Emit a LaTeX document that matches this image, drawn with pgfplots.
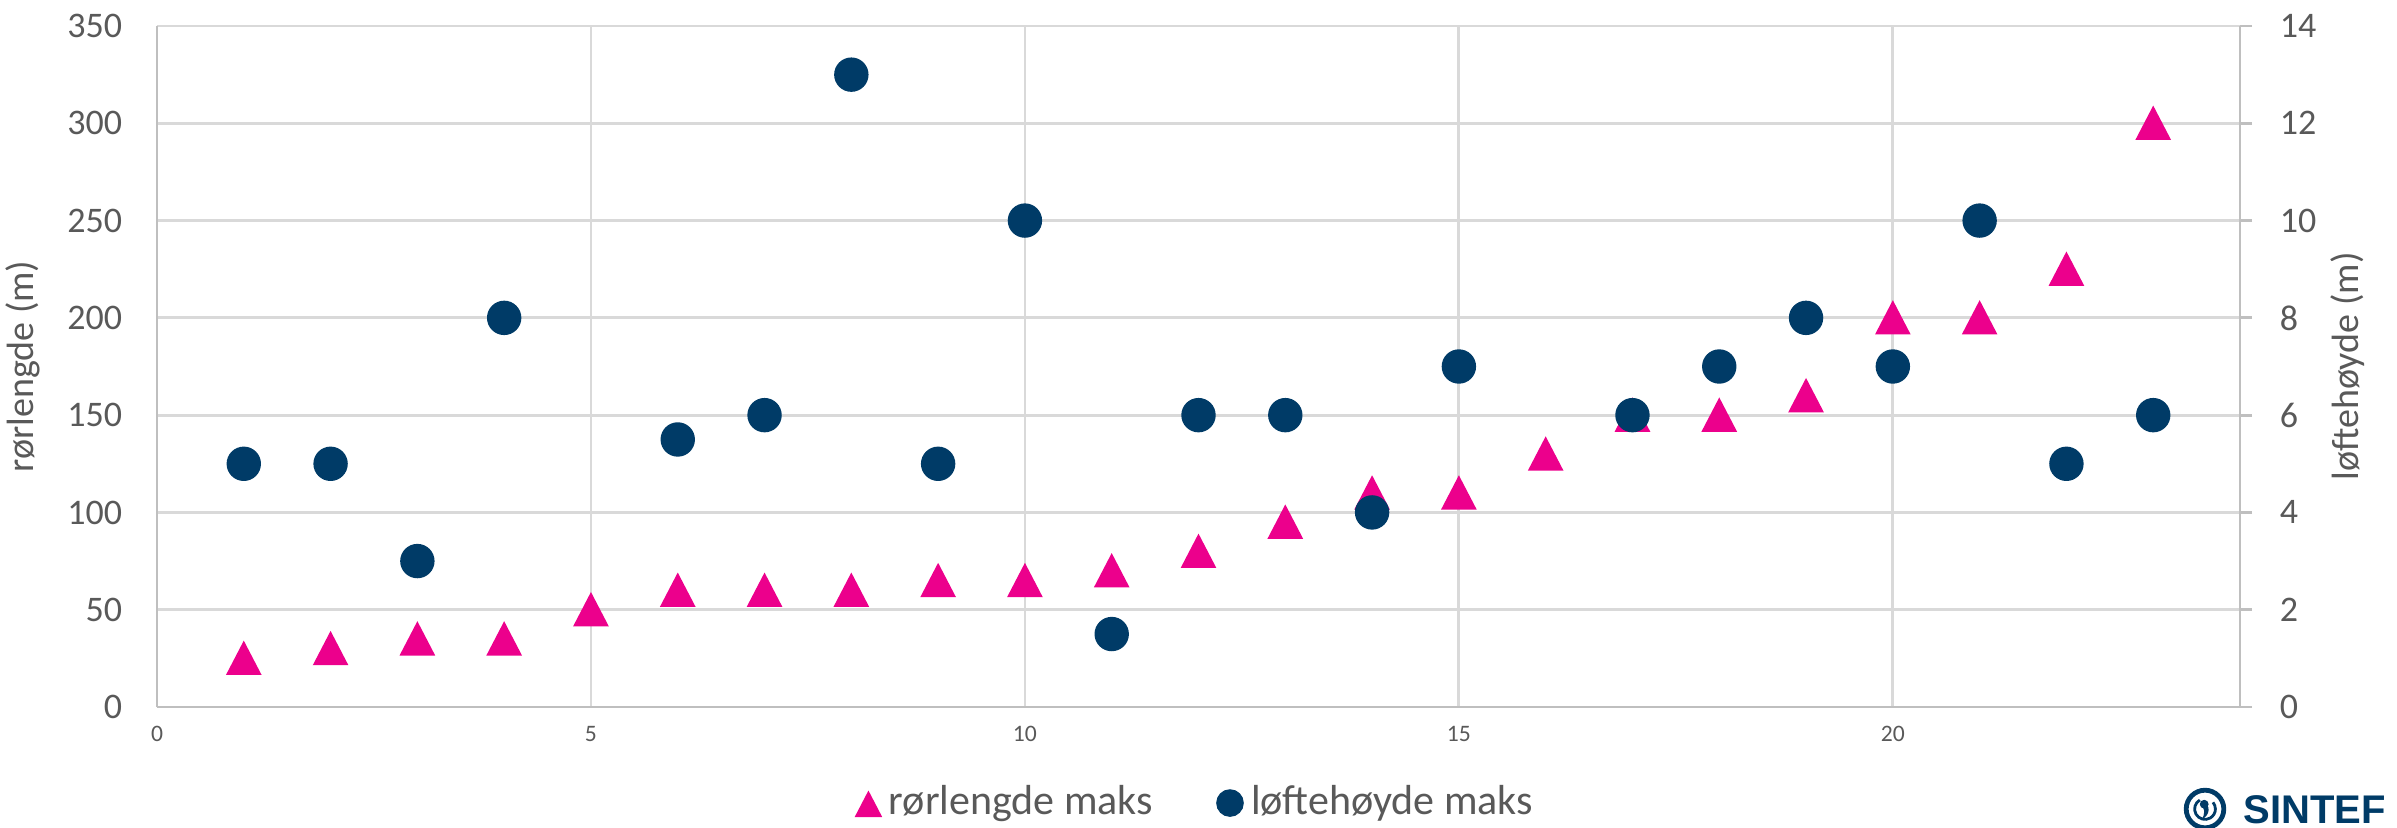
\documentclass[border=0pt]{standalone}
\usepackage{pgfplots}
\pgfplotsset{compat=1.18}
\usepackage{fontspec}
\setmainfont{Carlito}
\newfontfamily\logofont{Liberation Sans}
\definecolor{pinkc}{HTML}{EC008C}
\definecolor{navyc}{HTML}{003B67}
\definecolor{gridc}{HTML}{D9D9D9}
\definecolor{axisc}{HTML}{BFBFBF}
\definecolor{textc}{HTML}{595959}
\pgfplotstableread{
x y
1 25
2 30
3 35
4 35
5 50
6 60
7 60
8 60
9 65
10 65
11 70
12 80
13 95
14 110
15 110
16 130
17 150
18 150
19 160
20 200
21 200
22 225
23 300
}\rortable
\pgfplotstableread{
x y
1 5
2 5
3 3
4 8
6 5.5
7 6
8 13
9 5
10 10
11 1.5
12 6
13 6
14 4
15 7
17 6
18 7
19 8
20 7
21 10
22 5
23 6
}\lofttable
\begin{document}
\begin{tikzpicture}
\pgfplotsset{
  common/.style={
    scale only axis, width=520.75pt, height=170.25pt,
    xmin=0, xmax=24,
    axis line style={draw=axisc, line width=0.7pt},
    /pgf/number format/assume math mode=true,
    tick label style={text=textc},
  }
}
\begin{axis}[common,
  ymin=0, ymax=350,
  xtick={0,5,...,20}, ytick={0,50,...,350},
  axis x line*=bottom, axis y line*=left,
  grid=major, major grid style={draw=gridc, line width=0.7pt},
  tick style={draw=none},
  xticklabel style={font=\fontsize{5.9}{7}\selectfont, anchor=center, yshift=-6.75pt},
  yticklabel style={font=\fontsize{9}{10}\selectfont, anchor=east, inner sep=0pt, xshift=-8.5pt},
  ylabel={rørlengde (m)},
  every axis y label/.style={at={(axis description cs:0,0.5)}, xshift=-33.5pt, rotate=90, anchor=center, font=\fontsize{9.5}{11}\selectfont, text=textc},
  legend style={at={(axis description cs:0.5,-0.141)}, anchor=center, draw=none, fill=none,
    legend columns=2, font=\fontsize{10.5}{12}\selectfont, text=textc,
    /tikz/every even column/.append style={column sep=14pt}},
  legend cell align=left,
]
\addplot[only marks, mark=triangle*, mark size=5.3pt, color=pinkc,
  mark options={fill=pinkc, draw=pinkc, xscale=0.9, yshift=-1.3pt},
  legend image post style={mark size=4pt}] table[x=x,y=y] {\rortable};
\addlegendentry{rørlengde maks}
\addlegendimage{only marks, mark=*, mark size=3.25pt, color=navyc, mark options={fill=navyc, draw=navyc}}
\addlegendentry{løftehøyde maks}
\end{axis}
\begin{axis}[common,
  ymin=0, ymax=14, ytick={0,2,...,14},
  axis x line=none, axis y line*=right,
  tick align=outside, major tick length=3pt, tick style={draw=axisc, line width=0.7pt},
  yticklabel style={font=\fontsize{9}{10}\selectfont, anchor=west, inner sep=0pt, xshift=6.75pt},
  ylabel={løftehøyde (m)},
  every axis y label/.style={at={(axis description cs:1,0.5)}, xshift=27pt, rotate=90, anchor=center, font=\fontsize{9.5}{11}\selectfont, text=textc},
]
\addplot[only marks, mark=*, mark size=4.1pt, color=navyc, mark options={fill=navyc, draw=navyc}] table[x=x,y=y] {\lofttable};
\end{axis}
% SINTEF logo
\begin{scope}[navyc]
\draw[line width=1.2pt] (512pt,-25.5pt) circle (4.7pt);
\draw[line width=0.7pt] (512pt,-25.5pt) ++(120:2.6pt) arc (120:400:2.6pt);
\fill (511.8pt,-24.3pt) circle (1.1pt);
\fill (511.2pt,-23.6pt) .. controls (513.6pt,-24.2pt) and (513.4pt,-27.2pt) .. (511.0pt,-28.2pt) .. controls (512.2pt,-26.8pt) and (512.0pt,-25.2pt) .. (510.9pt,-24.6pt) -- cycle;
\node[anchor=base west, inner sep=0pt, font=\logofont\bfseries\fontsize{10}{12}\selectfont] at (521.5pt,-29.1pt) {SINTEF};
\end{scope}
\pgfresetboundingbox
\path[use as bounding box] (-39.25pt,-30pt) rectangle (560pt,176.75pt);
\end{tikzpicture}
\end{document}
